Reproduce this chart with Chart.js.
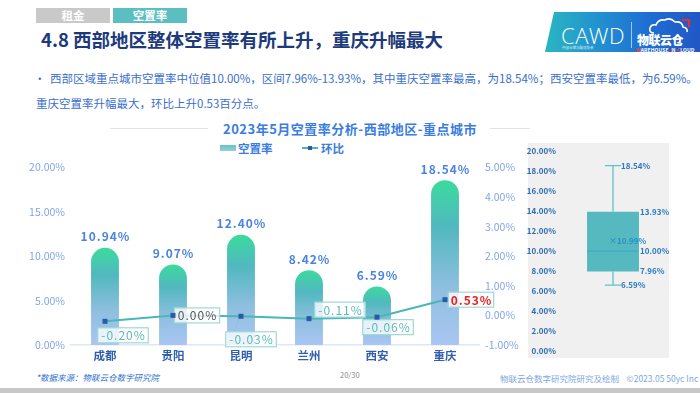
<!DOCTYPE html>
<html><head><meta charset="utf-8">
<script src="https://cdn.jsdelivr.net/npm/chart.js@4/dist/chart.umd.min.js"></script>
<style>
html,body{margin:0;padding:0;background:#fff;}
body{width:700px;height:393px;position:relative;overflow:hidden;font-family:"Noto Sans CJK SC","Noto Sans",sans-serif;}
.abs{position:absolute;white-space:nowrap;}
.tag{position:absolute;top:8px;height:15px;width:74px;color:#fff;font-weight:700;font-size:11.5px;line-height:15px;text-align:center;}
</style></head>
<body>
<div class="tag" style="left:36px;background:#c9c9c9;">租金</div>
<div class="tag" style="left:113px;background:#5bbec0;">空置率</div>
<div class="abs" style="left:41px;top:26px;font-size:18.5px;font-weight:700;color:#1d3b7c;">4.8 西部地区整体空置率有所上升，重庆升幅最大</div>

<!-- logo -->
<div class="abs" style="left:545px;top:12px;width:155px;height:40px;background:linear-gradient(90deg,#2bb6c2 0%,#2296cf 30%,#1f6fd3 65%,#2157c6 100%);clip-path:polygon(9px 0,100% 0,100% 100%,0 100%);"></div>
<div class="abs" style="left:561px;top:20px;font-family:'Open Sans';font-weight:300;font-size:22px;color:#fff;letter-spacing:0.5px;">CAWD</div>
<div class="abs" style="left:562px;top:45px;font-size:3.5px;color:#e6f0ff;">中国仓储与配送协会</div>
<div class="abs" style="left:631px;top:22px;width:1px;height:26px;background:rgba(255,255,255,0.6);"></div>
<svg class="abs" style="left:648px;top:17px" width="44" height="18" viewBox="0 0 44 18"><path d="M6 16 Q1 16 2 11 Q3 7 8 8 Q10 2 17 3 Q22 0 27 5 Q34 4 35 10 Q40 11 39 15" fill="none" stroke="#fff" stroke-width="1.6"/><path d="M34 3 L41 3 L41 10" fill="none" stroke="#e83030" stroke-width="2"/></svg>
<div class="abs" style="left:637px;top:31px;font-size:12px;font-weight:900;color:#fff;letter-spacing:-0.5px;">物联云仓</div>
<div class="abs" style="left:636px;top:46px;font-size:5px;font-weight:700;color:#fff;letter-spacing:0.1px;"><span style="color:#ff4040">W</span>AREHOUSE <span style="color:#ff4040">I</span>N <span style="color:#ff4040">C</span>LOUD</div>

<!-- bullet text -->
<div class="abs" style="left:34px;top:70px;font-size:11.5px;color:#3a6fcb;">•</div>
<div class="abs" style="left:50px;top:70px;font-size:11.5px;color:#3a6fcb;">西部区域重点城市空置率中位值10.00%，区间7.96%-13.93%，其中重庆空置率最高，为18.54%；西安空置率最低，为6.59%。</div>
<div class="abs" style="left:36px;top:95px;font-size:11.5px;color:#3a6fcb;">重庆空置率升幅最大，环比上升0.53百分点。</div>

<!-- chart title -->
<div class="abs" style="left:110px;top:128px;width:98px;height:1px;background:#e3e3e3;"></div>
<div class="abs" style="left:490px;top:128px;width:40px;height:1px;background:#e3e3e3;"></div>
<div class="abs" style="left:223px;top:119px;font-size:13px;font-weight:700;color:#3a7de2;letter-spacing:0.5px;">2023年5月空置率分析-西部地区-重点城市</div>

<!-- legend -->
<div class="abs" style="left:220px;top:145px;width:16px;height:6px;background:linear-gradient(180deg,#5ccdb0,#a3c3ee);"></div>
<div class="abs" style="left:238px;top:140px;font-size:11.5px;font-weight:700;color:#3a7de2;">空置率</div>
<div class="abs" style="left:302px;top:147px;width:16px;height:2px;background:#4ab7b7;"></div>
<div class="abs" style="left:308px;top:146px;width:4px;height:4px;background:#2a5aa8;"></div>
<div class="abs" style="left:321px;top:140px;font-size:11.5px;font-weight:700;color:#3a7de2;">环比</div>

<!-- box panel -->
<div class="abs" style="left:528px;top:143px;width:141px;height:215px;background:#f0f0f0;"></div>

<div class="abs" style="left:20px;top:155px;width:510px;height:210px;"><canvas id="main" width="510" height="210"></canvas></div>
<div class="abs" style="left:515px;top:140px;width:155px;height:225px;"><canvas id="box" width="155" height="225"></canvas></div>

<!-- footer -->
<div class="abs" style="left:36px;top:371px;font-size:8.5px;font-style:italic;color:#2f6fd0;">*数据来源：物联云仓数字研究院</div>
<div class="abs" style="left:340px;top:369px;font-size:7.5px;color:#8a8a8a;">20/30</div>
<div class="abs" style="left:500px;top:372px;font-size:8.5px;color:#80a8e2;">物联云仓数字研究院研究及绘制&nbsp;&nbsp;&nbsp;&nbsp;©2023.05 50yc Inc</div>
<div class="abs" style="left:0;top:388px;width:700px;height:5px;background:#c8c8c8;"></div>

<script>
// ---- data ----
const cities = ['成都','贵阳','昆明','兰州','西安','重庆'];
const vacancyRate = [10.94, 9.07, 12.40, 8.42, 6.59, 18.54];
const momChange = [-0.20, 0.00, -0.03, -0.11, -0.06, 0.53];
const leftTicks = [0, 5, 10, 15, 20];
const rightTicks = [-1, 0, 1, 2, 3, 4, 5];
const boxStatNames = ['min','q1','median','q3','max'];
const boxStats = [6.59, 7.96, 10.00, 13.93, 18.54];
const boxMean = 10.99;

const pct = v => v.toFixed(2) + '%';
const CJK = '"Noto Sans CJK SC","Noto Sans",sans-serif';

// label box offsets (style) relative to each point
const lineLabelOffsets = [[18,14],[24,0],[10,23],[31,-9],[11,10],[26,0]];

const labelPlugin = {
  id: 'labels',
  afterDatasetsDraw(chart) {
    const ctx = chart.ctx;
    const barMeta = chart.getDatasetMeta(1);
    ctx.save();
    ctx.font = '600 12px ' + CJK;
    ctx.fillStyle = '#4a84e0';
    ctx.textAlign = 'center';
    ctx.textBaseline = 'middle';
    try { ctx.letterSpacing = '1px'; } catch(e) {}
    barMeta.data.forEach((el, i) => {
      ctx.fillText(pct(vacancyRate[i]), el.x + 0.5, el.y - 11);
    });
    ctx.restore();
    const lineMeta = chart.getDatasetMeta(0);
    lineMeta.data.forEach((el, i) => {
      const v = momChange[i];
      const [dx, dy] = lineLabelOffsets[i];
      const cx = el.x + dx, cy = el.y + dy;
      const txt = pct(v);
      ctx.save();
      ctx.font = '12px ' + CJK;
      try { ctx.letterSpacing = '1px'; } catch(e) {}
      const w = ctx.measureText(txt).width + 6;
      const h = 15;
      ctx.strokeStyle = 'rgba(120,200,200,0.45)';
      ctx.lineWidth = 1;
      ctx.beginPath(); ctx.moveTo(el.x, el.y); ctx.lineTo(cx - w/2 + 4, cy); ctx.stroke();
      ctx.fillStyle = 'rgba(255,255,255,0.78)';
      ctx.fillRect(cx - w/2, cy - h/2, w, h);
      ctx.strokeStyle = '#9ed8d5';
      ctx.lineWidth = 1.2;
      ctx.strokeRect(cx - w/2, cy - h/2, w, h);
      ctx.fillStyle = v > 0 ? '#f21d1d' : (v === 0 ? '#555555' : '#5cb9b9');
      if (v > 0) ctx.font = '600 12px ' + CJK;
      ctx.textAlign = 'center';
      ctx.textBaseline = 'middle';
      ctx.fillText(txt, cx + 0.5, cy + 0.5);
      ctx.restore();
    });
    lineMeta.data.forEach(el => {
      ctx.save();
      ctx.fillStyle = '#2a5aa8';
      ctx.fillRect(el.x - 2.5, el.y - 2.5, 5, 5);
      ctx.restore();
    });
  }
};

new Chart(document.getElementById('main'), {
  type: 'bar',
  data: {
    labels: cities,
    datasets: [
      {
        type: 'line', label: '环比', data: momChange, yAxisID: 'y1', order: 0,
        borderColor: '#4ab7b7', borderWidth: 2, tension: 0,
        pointStyle: 'rect', pointRadius: 2.5, pointBackgroundColor: '#2a5aa8', pointBorderWidth: 0
      },
      {
        type: 'bar', label: '空置率', data: vacancyRate, yAxisID: 'y', order: 1,
        categoryPercentage: 1, barPercentage: 0.41,
        borderRadius: {topLeft: 14, topRight: 14, bottomLeft: 0, bottomRight: 0},
        borderSkipped: 'bottom',
        backgroundColor: (c) => {
          const chart = c.chart;
          if (!chart.chartArea || c.raw == null) return '#5bbdc0';
          const ys = chart.scales.y;
          const top = ys.getPixelForValue(c.raw), bot = ys.getPixelForValue(0);
          const g = chart.ctx.createLinearGradient(0, top, 0, bot);
          g.addColorStop(0, '#3bdb9d');
          g.addColorStop(0.28, '#51b8bf');
          g.addColorStop(0.65, '#8ebfdf');
          g.addColorStop(1, '#a9c6f3');
          return g;
        }
      }
    ]
  },
  options: {
    responsive: false, animation: false,
    layout: {padding: {top: 11, left: 0, right: 0, bottom: 0}},
    plugins: {legend: {display: false}, tooltip: {enabled: false}},
    scales: {
      x: {
        grid: {display: false, drawTicks: false},
        border: {display: true, color: '#dfe7f1', width: 1.5},
        ticks: {color: '#2f5db0', font: {size: 11.5, weight: '700', family: CJK}, padding: 4},
        afterFit: s => { s.height = 20; }
      },
      y: {
        position: 'left', min: 0, max: 20,
        afterBuildTicks: s => { s.ticks = leftTicks.map(v => ({value: v})); },
        grid: {display: false, drawTicks: false}, border: {display: false},
        ticks: {color: '#80a5ea', font: {size: 10.5, family: CJK}, padding: 6, callback: v => pct(v)},
        afterFit: s => { s.width = 51; }
      },
      y1: {
        position: 'right', min: -1, max: 5,
        afterBuildTicks: s => { s.ticks = rightTicks.map(v => ({value: v})); },
        grid: {display: false, drawTicks: false}, border: {display: false},
        ticks: {color: '#80a5ea', font: {size: 10.5, family: CJK}, padding: 6, callback: v => pct(v)},
        afterFit: s => { s.width = 51; }
      }
    }
  },
  plugins: [labelPlugin]
});

// ---- box plot ----
const boxPlugin = {
  id: 'boxwhisk',
  afterDatasetsDraw(chart) {
    const ctx = chart.ctx, ys = chart.scales.y;
    const el = chart.getDatasetMeta(0).data[0];
    const x = el.x, half = el.width / 2;
    const [mn, q1, md, q3, mx] = boxStats;
    const py = v => ys.getPixelForValue(v);
    ctx.save();
    ctx.strokeStyle = '#5ec3cc'; ctx.lineWidth = 1.3;
    ctx.beginPath();
    ctx.moveTo(x, py(q3)); ctx.lineTo(x, py(mx));
    ctx.moveTo(x - 8, py(mx)); ctx.lineTo(x + 8, py(mx));
    ctx.moveTo(x, py(q1)); ctx.lineTo(x, py(mn));
    ctx.moveTo(x - 8, py(mn)); ctx.lineTo(x + 8, py(mn));
    ctx.stroke();
    ctx.strokeStyle = '#3ea5cf'; ctx.lineWidth = 1.2;
    ctx.beginPath(); ctx.moveTo(x - half, py(md)); ctx.lineTo(x + half, py(md)); ctx.stroke();
    ctx.font = '700 8px ' + CJK;
    ctx.fillStyle = '#2a79c2';
    ctx.textBaseline = 'middle'; ctx.textAlign = 'left';
    ctx.fillText(pct(mx), x + 8, py(mx));
    ctx.fillText(pct(mn), x + 8, py(mn));
    ctx.fillText(pct(q3), x + half + 1, py(q3));
    ctx.fillText(pct(md), x + half + 1, py(md));
    ctx.fillText(pct(q1), x + half + 1, py(q1));
    ctx.fillStyle = '#2a8fd0';
    ctx.fillText('×' + pct(boxMean), x - 4, py(boxMean));
    ctx.restore();
  }
};

new Chart(document.getElementById('box'), {
  type: 'bar',
  data: {
    labels: [''],
    datasets: [{data: [[boxStats[1], boxStats[3]]], backgroundColor: '#55b9bf', borderWidth: 0,
      categoryPercentage: 1, barPercentage: 0.49}]
  },
  options: {
    responsive: false, animation: false,
    layout: {padding: {top: 11, bottom: 14, right: 4, left: 0}},
    plugins: {legend: {display: false}, tooltip: {enabled: false}},
    scales: {
      x: {display: false},
      y: {
        min: 0, max: 20,
        ticks: {stepSize: 2, color: '#2c6cb2', font: {size: 8, weight: '700', family: CJK}, padding: 4, callback: v => pct(v)},
        grid: {display: false, drawTicks: false}, border: {display: false},
        afterFit: s => { s.width = 45; }
      }
    }
  },
  plugins: [boxPlugin]
});
</script>
</body></html>
